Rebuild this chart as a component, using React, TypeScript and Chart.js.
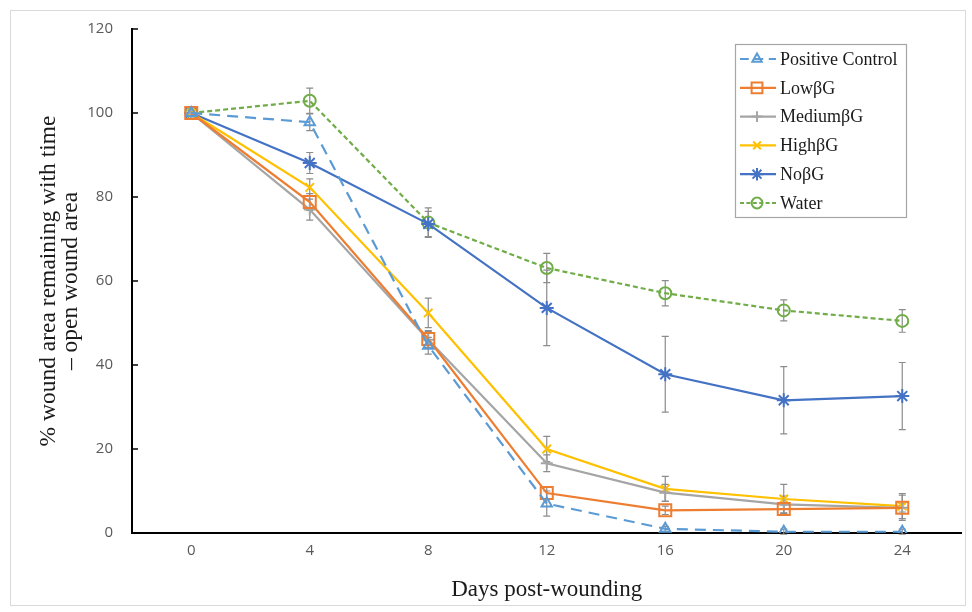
import React, { useEffect, useRef } from 'react';
import { Chart, registerables } from 'chart.js';
import { drawPoint } from 'chart.js/helpers';

Chart.register(...registerables);

const days = ['0', '4', '8', '12', '16', '20', '24'];
const yTicks = [0, 20, 40, 60, 80, 100, 120];

const positiveControl = [100, 97.8, 44.6, 7, 1, 0.3, 0.3];
const lowBG = [100, 78.8, 46.2, 9.5, 5.4, 5.7, 6];
const mediumBG = [100, 77, 46, 16.6, 9.6, 6.8, 6];
const highBG = [100, 82.3, 52.4, 20, 10.5, 8.1, 6.4];
const noBG = [100, 88.1, 73.6, 53.6, 37.8, 31.6, 32.6];
const water = [100, 102.9, 73.9, 63.1, 57.1, 53, 50.5];

const positiveControlErr = [0, 2, 2, 3, 0.6, 0.6, 0.6];
const lowBGErr = [0, 2, 2, 1.5, 1, 1, 1];
const mediumBGErr = [0, 2.5, 2, 2, 2, 2, 3];
const highBGErr = [0, 2, 3.5, 3, 3, 3.5, 3];
const noBGErr = [0, 2.5, 3, 9, 9, 8, 8];
const waterErr = [0, 3, 3.5, 3.5, 3, 2.5, 2.7];

const seriesNames = ['Positive Control', 'LowβG', 'MediumβG', 'HighβG', 'NoβG', 'Water'];

const SERIF = '"Liberation Serif", "Times New Roman", serif';
const SANS = '"Open Sans", "Noto Sans", sans-serif';

type Series = {
  label: string;
  data: number[];
  err: number[];
  color: string;
  pointStyle: string;
  radius: number;
  dash: number[];
};

const series: Series[] = [
  { label: seriesNames[0], data: positiveControl, err: positiveControlErr, color: '#5B9BD5', pointStyle: 'triangle', radius: 6, dash: [11, 7] },
  { label: seriesNames[1], data: lowBG, err: lowBGErr, color: '#ED7D31', pointStyle: 'rect', radius: 8.5, dash: [] },
  { label: seriesNames[2], data: mediumBG, err: mediumBGErr, color: '#A5A5A5', pointStyle: 'cross', radius: 6, dash: [] },
  { label: seriesNames[3], data: highBG, err: highBGErr, color: '#FFC000', pointStyle: 'crossRot', radius: 6, dash: [] },
  { label: seriesNames[4], data: noBG, err: noBGErr, color: '#4472C4', pointStyle: 'star', radius: 7, dash: [] },
  { label: seriesNames[5], data: water, err: waterErr, color: '#70AD47', pointStyle: 'circle', radius: 6, dash: [5, 3] },
];

const errorBarPlugin = {
  id: 'errorBars',
  beforeDatasetsDraw(chart: any) {
    const ctx = chart.ctx;
    const yScale = chart.scales.y;
    ctx.save();
    ctx.strokeStyle = '#8C8C8C';
    ctx.lineWidth = 1.2;
    series.forEach((s, i) => {
      const meta = chart.getDatasetMeta(i);
      meta.data.forEach((pt: any, j: number) => {
        const e = s.err[j];
        if (!e) return;
        const x = pt.x;
        const yTop = yScale.getPixelForValue(s.data[j] + e);
        const yBot = yScale.getPixelForValue(s.data[j] - e);
        ctx.beginPath();
        ctx.moveTo(x, yTop);
        ctx.lineTo(x, yBot);
        ctx.moveTo(x - 3.5, yTop);
        ctx.lineTo(x + 3.5, yTop);
        ctx.moveTo(x - 3.5, yBot);
        ctx.lineTo(x + 3.5, yBot);
        ctx.stroke();
      });
    });
    ctx.restore();
  },
};

const decorPlugin = {
  id: 'decor',
  afterDraw(chart: any) {
    const ctx = chart.ctx;
    const yScale = chart.scales.y;
    const area = chart.chartArea;
    ctx.save();
    // inside tick marks on the y axis
    ctx.strokeStyle = '#000';
    ctx.lineWidth = 1.5;
    yTicks.forEach((v) => {
      const y = yScale.getPixelForValue(v);
      ctx.beginPath();
      ctx.moveTo(area.left, y);
      ctx.lineTo(area.left + 6, y);
      ctx.stroke();
    });
    // outer frame
    ctx.strokeStyle = '#D9D9D9';
    ctx.lineWidth = 1;
    ctx.strokeRect(10.5, 10.5, 955, 595);

    // legend
    const lx = 735;
    const ly = 44;
    const lw = 171;
    const lh = 173;
    ctx.fillStyle = '#FFFFFF';
    ctx.fillRect(lx, ly, lw, lh);
    ctx.strokeStyle = '#A6A6A6';
    ctx.lineWidth = 1.2;
    ctx.strokeRect(lx + 0.5, ly + 0.5, lw, lh);
    series.forEach((s, i) => {
      const cy = ly + 15 + i * 28.8;
      ctx.strokeStyle = s.color;
      ctx.lineWidth = 2.2;
      ctx.setLineDash(s.dash.length ? [s.dash[0] * 0.8, s.dash[1] * 0.8] : []);
      ctx.beginPath();
      ctx.moveTo(lx + 5, cy);
      ctx.lineTo(lx + 41, cy);
      ctx.stroke();
      ctx.setLineDash([]);
      ctx.fillStyle = 'rgba(0,0,0,0)';
      ctx.lineWidth = 2;
      drawPoint(ctx, { pointStyle: s.pointStyle, rotation: 0, radius: s.radius * 0.9, borderWidth: 2 } as any, lx + 22, cy);
      ctx.fillStyle = '#1a1a1a';
      ctx.font = `18px ${SERIF}`;
      ctx.textAlign = 'left';
      ctx.textBaseline = 'middle';
      ctx.fillText(s.label, lx + 45, cy + 1);
    });
    ctx.restore();
  },
};

export default function App() {
  const canvasRef = useRef<HTMLCanvasElement | null>(null);

  useEffect(() => {
    const canvas = canvasRef.current;
    if (!canvas) return;
    const chart = new Chart(canvas, {
      type: 'line',
      data: {
        labels: days,
        datasets: series.map((s) => ({
          label: s.label,
          data: s.data,
          borderColor: s.color,
          backgroundColor: 'rgba(0,0,0,0)',
          borderWidth: 2.2,
          borderDash: s.dash,
          pointStyle: s.pointStyle as any,
          pointRadius: s.radius,
          pointBorderWidth: 2,
          pointBorderColor: s.color,
          pointBackgroundColor: 'rgba(0,0,0,0)',
          tension: 0,
          fill: false,
        })),
      },
      options: {
        animation: false,
        responsive: false,
        layout: { padding: { left: 0, right: 9, top: 29, bottom: 0 } },
        plugins: {
          legend: { display: false },
          tooltip: { enabled: false },
        },
        scales: {
          x: {
            type: 'category',
            offset: true,
            grid: { display: false, drawTicks: false },
            border: { display: true, color: '#000', width: 2 },
            ticks: { color: '#595959', font: { family: SANS, size: 15 }, padding: 9 },
            title: {
              display: true,
              text: 'Days post-wounding',
              color: '#1a1a1a',
              font: { family: SERIF, size: 23 },
              padding: { top: 0, bottom: 8 },
            },
            afterFit: (scale: any) => {
              scale.height = 79;
            },
          },
          y: {
            min: 0,
            max: 120,
            ticks: { stepSize: 20, color: '#595959', font: { family: SANS, size: 15 }, padding: 19 },
            grid: { display: false, drawTicks: false },
            border: { display: true, color: '#000', width: 2 },
            title: {
              display: true,
              text: ['% wound area remaining with time', '– open wound area'],
              color: '#1a1a1a',
              font: { family: SERIF, size: 23.5, lineHeight: 0.92 },
              padding: { top: 38, bottom: 0 },
            },
            afterFit: (scale: any) => {
              scale.width = 132;
            },
          },
        },
      },
      plugins: [errorBarPlugin, decorPlugin],
    });
    return () => chart.destroy();
  }, []);

  return (
    <div style={{ position: 'fixed', left: 0, top: 0, width: 972, height: 612, background: '#fff' }}>
      <canvas ref={canvasRef} width={972} height={612} style={{ display: 'block' }} />
    </div>
  );
}
